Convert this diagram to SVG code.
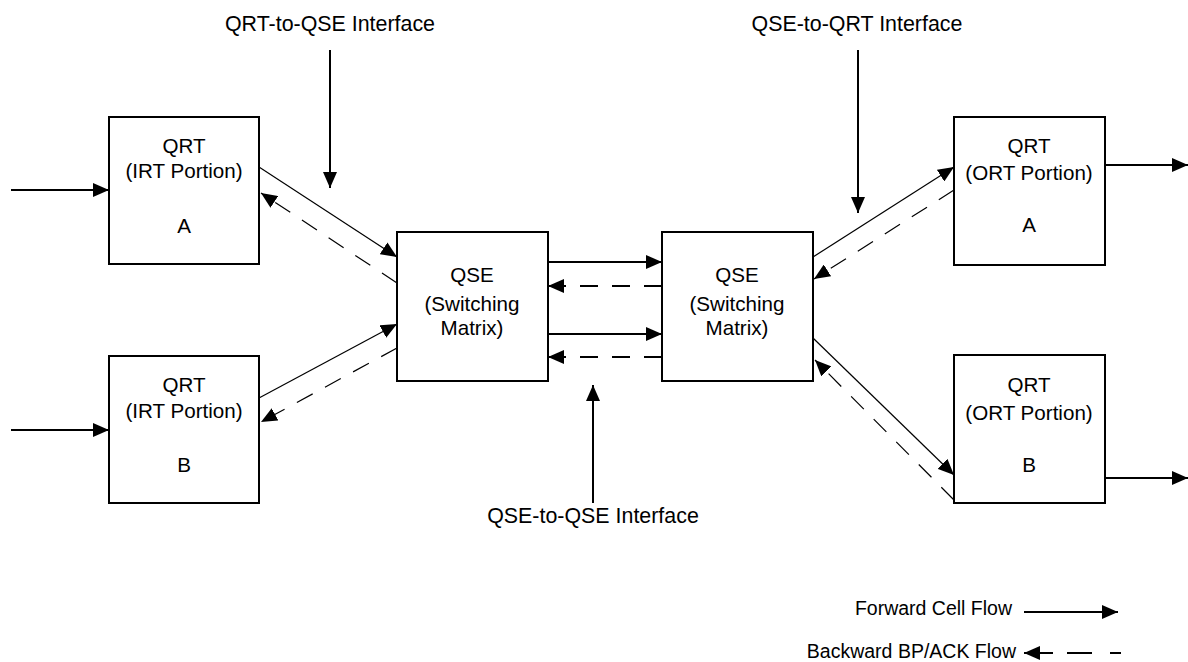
<svg xmlns="http://www.w3.org/2000/svg" width="1188" height="662" viewBox="0 0 1188 662">
<defs>
<marker id="ah" markerUnits="userSpaceOnUse" markerWidth="16" markerHeight="14" refX="16" refY="7" orient="auto">
<path d="M0,0 L16,7 L0,14 z" fill="#000"/>
</marker>
</defs>
<style>
.box{fill:#fff;stroke:#000;stroke-width:2}
.t{font-family:"Liberation Sans",Arial,sans-serif;font-size:20.6px;fill:#000;text-anchor:middle}
.lbl{font-family:"Liberation Sans",Arial,sans-serif;font-size:21.4px;fill:#000;text-anchor:middle}
.leg{font-family:"Liberation Sans",Arial,sans-serif;font-size:19.5px;fill:#000;text-anchor:end}
.s{fill:none;stroke:#000;stroke-width:2;marker-end:url(#ah)}
.sd{fill:none;stroke:#000;stroke-width:1.2;marker-end:url(#ah)}
.d{fill:none;stroke:#000;stroke-width:2;stroke-dasharray:18 14;marker-end:url(#ah)}
.dd{fill:none;stroke:#000;stroke-width:1.2;stroke-dasharray:18 14;marker-end:url(#ah)}
</style>
<rect width="1188" height="662" fill="#fff"/>
<g id="irt-a"><rect class="box" x="109" y="117" width="150" height="147"/>
<text class="t" x="184" y="153">QRT</text><text class="t" x="184" y="178">(IRT Portion)</text><text class="t" x="184" y="233">A</text></g>
<g id="irt-b"><rect class="box" x="109" y="356" width="150" height="147"/>
<text class="t" x="184" y="392">QRT</text><text class="t" x="184" y="418">(IRT Portion)</text><text class="t" x="184" y="472">B</text></g>
<g id="qse-1"><rect class="box" x="397" y="232" width="151" height="149"/>
<text class="t" x="472" y="282">QSE</text><text class="t" x="472" y="311">(Switching</text><text class="t" x="472" y="335">Matrix)</text></g>
<g id="qse-2"><rect class="box" x="662" y="232" width="151" height="149"/>
<text class="t" x="737" y="282">QSE</text><text class="t" x="737" y="311">(Switching</text><text class="t" x="737" y="335">Matrix)</text></g>
<g id="ort-a"><rect class="box" x="954" y="117" width="151" height="148"/>
<text class="t" x="1029" y="153">QRT</text><text class="t" x="1029" y="180">(ORT Portion)</text><text class="t" x="1029" y="232">A</text></g>
<g id="ort-b"><rect class="box" x="954" y="355" width="151" height="148"/>
<text class="t" x="1029" y="392">QRT</text><text class="t" x="1029" y="420">(ORT Portion)</text><text class="t" x="1029" y="472">B</text></g>
<g id="labels">
<text class="lbl" x="330" y="31">QRT-to-QSE Interface</text>
<text class="lbl" x="857" y="31">QSE-to-QRT Interface</text>
<text class="lbl" x="593" y="523">QSE-to-QSE Interface</text>
</g>
<g id="connectors">
<line class="s" x1="11" y1="190" x2="109" y2="190"/>
<line class="s" x1="11" y1="430" x2="109" y2="430"/>
<line class="s" x1="1105" y1="165" x2="1188" y2="165"/>
<line class="s" x1="1105" y1="478" x2="1188" y2="478"/>
<line class="sd" x1="259" y1="167" x2="397" y2="257"/>
<line class="dd" x1="397" y1="283" x2="261" y2="193"/>
<line class="sd" x1="259" y1="398" x2="397" y2="324"/>
<line class="dd" x1="397" y1="348" x2="261" y2="422"/>
<line class="s" x1="548" y1="262" x2="662" y2="262"/>
<line class="d" x1="662" y1="286" x2="548" y2="286"/>
<line class="s" x1="548" y1="334" x2="662" y2="334"/>
<line class="d" x1="662" y1="357" x2="548" y2="357"/>
<line class="sd" x1="813" y1="257" x2="954" y2="167"/>
<line class="dd" x1="954" y1="190" x2="814" y2="279"/>
<line class="sd" x1="813" y1="338" x2="954" y2="475"/>
<line class="dd" x1="954" y1="500" x2="815" y2="360"/>
<line class="s" x1="330" y1="50" x2="330" y2="188"/>
<line class="s" x1="858" y1="50" x2="858" y2="213"/>
<line class="s" x1="593" y1="503" x2="593" y2="385"/>
</g>
<g id="legend">
<text class="leg" x="1012" y="615">Forward Cell Flow</text>
<line class="s" x1="1024" y1="612" x2="1118" y2="612"/>
<text class="leg" x="1016" y="658">Backward BP/ACK Flow</text>
<path d="M1121,653 L1024,653" fill="none" stroke="#000" stroke-width="2" stroke-dasharray="11 18 25 14 40" marker-end="url(#ah)"/>
</g>
</svg>
